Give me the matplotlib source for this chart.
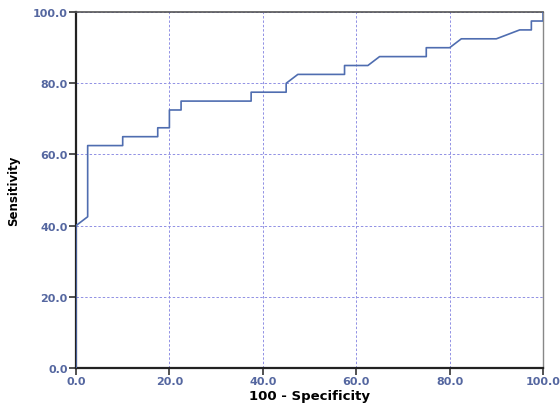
import numpy as np
import matplotlib
matplotlib.use('Agg')
from matplotlib import pyplot as plt

# ROC curve points (100 - specificity, sensitivity)
fpr = [0, 0, 2.5, 2.5, 10, 10, 17.5, 17.5, 20, 20, 22.5, 22.5, 37.5, 37.5, 45, 45,
       47.5, 57.5, 57.5, 62.5, 65, 75, 75, 80, 82.5, 90, 95, 97.5, 97.5, 100, 100]
tpr = [0, 40, 42.5, 62.5, 62.5, 65, 65, 67.5, 67.5, 72.5, 72.5, 75, 75, 77.5, 77.5, 80,
       82.5, 82.5, 85, 85, 87.5, 87.5, 90, 90, 92.5, 92.5, 95, 95, 97.5, 97.5, 100]
ticks = [0, 20, 40, 60, 80, 100]

tick_col = '#5567a0'
line_col = '#4f6db0'
grid_col = '#9090e4'

fig = plt.figure(figsize=(5.6, 4.1), dpi=100)
ax = fig.add_axes([0.1357, 0.1, 0.834, 0.868])

ax.plot(fpr, tpr, color=line_col, lw=1.2, zorder=3)

ax.set_xlim(0, 100)
ax.set_ylim(0, 100)
ax.set_xticks(ticks)
ax.set_yticks(ticks)
ax.set_xticklabels(['%.1f' % t for t in ticks])
ax.set_yticklabels(['%.1f' % t for t in ticks])
for lab in ax.get_xticklabels() + ax.get_yticklabels():
    lab.set_color(tick_col)
    lab.set_fontweight('bold')
    lab.set_fontsize(8)
ax.tick_params(axis='both', length=5, width=1.2, color='#333333', pad=1)

ax.grid(True, color=grid_col, linestyle=(0, (2.5, 2)), lw=0.7)
ax.set_axisbelow(True)

for side in ['left', 'bottom']:
    ax.spines[side].set_color('#222222')
    ax.spines[side].set_linewidth(1.6)
ax.spines['top'].set_color('#555555')
ax.spines['top'].set_linewidth(1.2)
ax.spines['right'].set_color('#888888')
ax.spines['right'].set_linewidth(1.0)

ax.set_xlabel('100 - Specificity', fontsize=9.5, fontweight='bold', labelpad=2)
ax.set_ylabel('Sensitivity', fontsize=8.5, fontweight='bold', labelpad=9)

fig.savefig('out.png', dpi=100)
